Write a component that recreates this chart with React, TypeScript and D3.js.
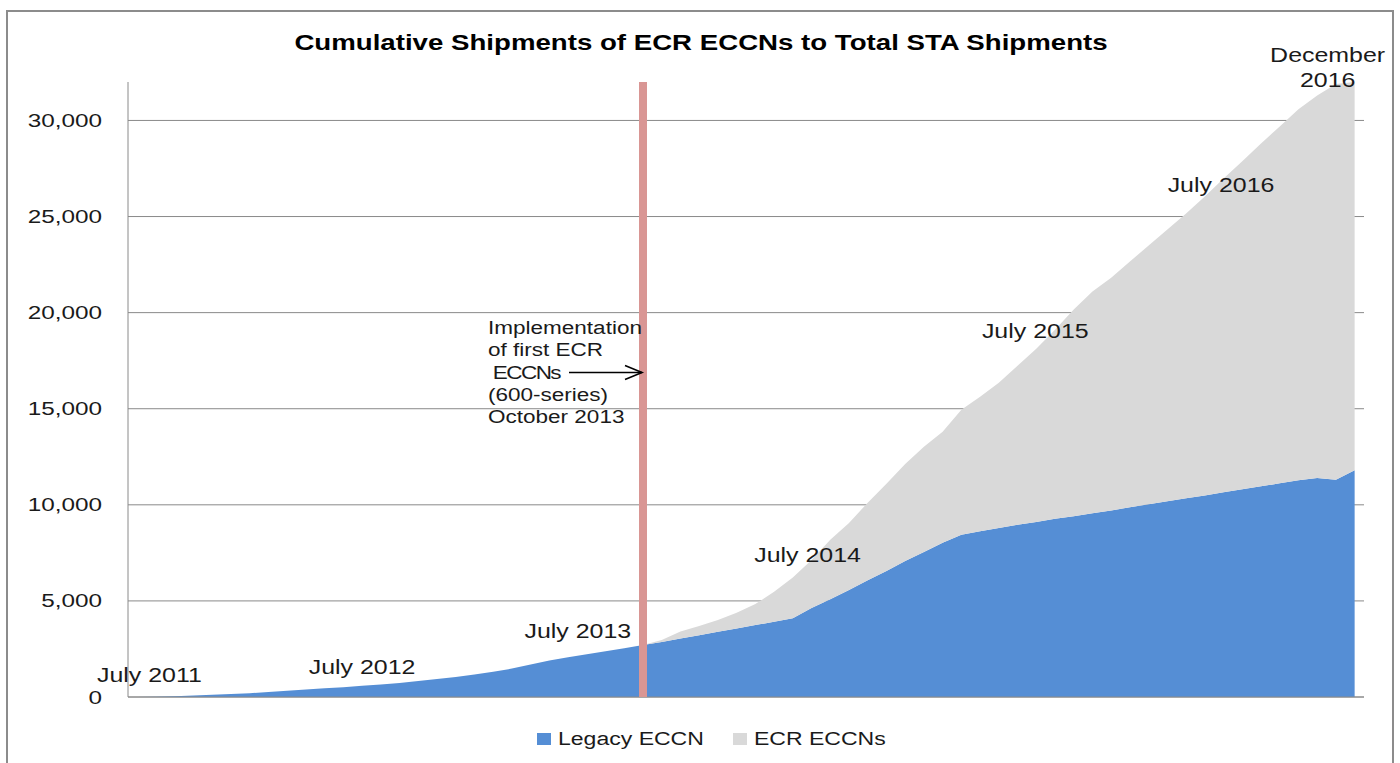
import React from "react";
import * as d3 from "d3";

const months = [
  "2011-07","2011-08","2011-09","2011-10","2011-11","2011-12",
  "2012-01","2012-02","2012-03","2012-04","2012-05","2012-06","2012-07","2012-08","2012-09","2012-10","2012-11","2012-12",
  "2013-01","2013-02","2013-03","2013-04","2013-05","2013-06","2013-07","2013-08","2013-09","2013-10","2013-11","2013-12",
  "2014-01","2014-02","2014-03","2014-04","2014-05","2014-06","2014-07","2014-08","2014-09","2014-10","2014-11","2014-12",
  "2015-01","2015-02","2015-03","2015-04","2015-05","2015-06","2015-07","2015-08","2015-09","2015-10","2015-11","2015-12",
  "2016-01","2016-02","2016-03","2016-04","2016-05","2016-06","2016-07","2016-08","2016-09","2016-10","2016-11","2016-12",
];

const legacyEccn = [
  0, 15, 40, 80, 120, 160, 200, 260, 320, 390, 450, 510, 580,
  650, 730, 830, 940, 1040, 1170, 1310, 1480, 1690, 1900, 2070, 2230, 2380, 2540, 2700,
  2860, 3040, 3210, 3390, 3570, 3740, 3920, 4100,
  4630, 5080, 5570, 6070, 6560, 7080, 7550, 8020, 8440,
  8620, 8800, 8960, 9110, 9270, 9400, 9560, 9710, 9870, 10030, 10180, 10340, 10490, 10650, 10810, 10960, 11120, 11280, 11400, 11300, 11800,
];

const ecrEccns = [
  0, 0, 0, 0, 0, 0, 0, 0, 0, 0, 0, 0, 0, 0,
  0, 0, 0, 0, 0, 0, 0, 0, 0, 0, 0, 0, 0, 0,
  105, 370, 485, 620, 810, 1100, 1550, 2120,
  2500, 3100, 3490, 4040, 4530, 5050, 5470, 5780, 6510,
  7000, 7550, 8280, 9010, 9840, 10760, 11540, 12110, 12790, 13460, 14140, 14820, 15550, 16330, 17060, 17840, 18570, 19300, 19900, 20600, 20200,
];

const yTicks = [0, 5000, 10000, 15000, 20000, 25000, 30000];
const seriesNames = ["Legacy ECCN", "ECR ECCNs"];
const seriesColors = ["#558ed5", "#d9d9d9"];
const dateLabels = [
  { month: "2011-07", text: ["July 2011"] },
  { month: "2012-07", text: ["July 2012"] },
  { month: "2013-07", text: ["July 2013"] },
  { month: "2014-07", text: ["July 2014"] },
  { month: "2015-07", text: ["July 2015"] },
  { month: "2016-07", text: ["July 2016"] },
  { month: "2016-12", text: ["December", "2016"] },
];
const markerMonth = "2013-10";
const annotationLines = ["Implementation", "of first ECR", " ECCNs", "(600-series)", "October 2013"];
const title = "Cumulative Shipments of ECR ECCNs to Total STA Shipments";

const SX = 1.28;
const FONT = "'Liberation Sans', Arial, sans-serif";

function T(props: any) {
  const { x, y, size = 18, anchor = "start", weight = "normal", fill = "#1a1a1a", children, space, ls } = props;
  const style: any = {};
  if (space) style.whiteSpace = "pre";
  if (ls) style.letterSpacing = ls + "px";
  return (
    <text
      transform={`translate(${x},${y}) scale(${SX},1)`}
      fontSize={size}
      textAnchor={anchor}
      fontWeight={weight}
      fontFamily={FONT}
      fill={fill}
      style={style}
    >
      {children}
    </text>
  );
}

export default function App() {
  const W = 1400, H = 763;
  const left = 128, right = 1364, top = 82, bottom = 697;

  const x = d3.scalePoint<string>().domain(months).range([left, right]).padding(0.5);
  const y = d3.scaleLinear().domain([0, 32000]).range([bottom, top]);

  const rows = months.map((m, i) => ({ m, legacy: legacyEccn[i], ecr: ecrEccns[i] }));
  const stack = d3.stack<any>().keys(["legacy", "ecr"]);
  const layers = stack(rows);
  const area = d3
    .area<any>()
    .x((d) => x(d.data.m) as number)
    .y0((d) => y(d[0]))
    .y1((d) => y(d[1]));

  const mx = x(markerMonth) as number;

  const labelPos: Record<string, { dx: number; y: number }> = {
    "2011-07": { dx: 12, y: 682 },
    "2012-07": { dx: 0, y: 674 },
    "2013-07": { dx: -9, y: 638 },
    "2014-07": { dx: -4, y: 562 },
    "2015-07": { dx: -1, y: 338 },
    "2016-07": { dx: -40, y: 192 },
    "2016-12": { dx: -27, y: 62 },
  };

  return (
    <svg
      width={W}
      height={H}
      style={{ position: "absolute", left: 0, top: 0, background: "#fff" }}
    >
      <rect x={0} y={0} width={W} height={H} fill="#fff" />
      <rect x={7} y={11} width={1386} height={770} fill="none" stroke="#8c8c8c" strokeWidth={2} />

      <T x={701} y={50} size={21.6} anchor="middle" weight="bold" fill="#000">
        {title}
      </T>

      {yTicks.map((t) => (
        <g key={t}>
          <line x1={left} x2={right} y1={y(t)} y2={y(t)} stroke="#8a8a8a" strokeWidth={1} />
          <T x={102} y={y(t) + 6.5} size={19} anchor="end">
            {d3.format(",")(t)}
          </T>
        </g>
      ))}
      <line x1={left} x2={left} y1={top} y2={bottom} stroke="#8a8a8a" strokeWidth={1} />

      {layers.map((layer, i) => (
        <path key={i} d={area(layer) as string} fill={seriesColors[i]} />
      ))}
      <line x1={left} x2={right} y1={bottom} y2={bottom} stroke="#8a8a8a" strokeWidth={1} />

      <line x1={mx} x2={mx} y1={top} y2={bottom} stroke="#d99694" strokeWidth={8} />

      {annotationLines.map((s, i) => (
        <T key={i} x={488} y={334 + i * 22.3} size={17.6} space ls={i === 2 ? -1.2 : 0}>
          {s}
        </T>
      ))}
      <line x1={569} x2={642} y1={372.5} y2={372.5} stroke="#000" strokeWidth={1.6} />
      <polyline
        points={`${625},${365.5} ${642},${372.5} ${625},${379.5}`}
        fill="none"
        stroke="#000"
        strokeWidth={1.6}
      />

      {dateLabels.map((d) => {
        const p = labelPos[d.month];
        const cx = (x(d.month) as number) + p.dx;
        return d.text.map((s, j) => (
          <T key={d.month + j} x={cx} y={p.y + j * 24.5} size={19.5} anchor="middle">
            {s}
          </T>
        ));
      })}

      {seriesNames.map((n, i) => {
        const lx = i === 0 ? 537 : 733;
        return (
          <g key={n}>
            <rect x={lx} y={733} width={14} height={12} fill={seriesColors[i]} />
            <T x={lx + 21} y={745} size={18}>
              {n}
            </T>
          </g>
        );
      })}
    </svg>
  );
}
